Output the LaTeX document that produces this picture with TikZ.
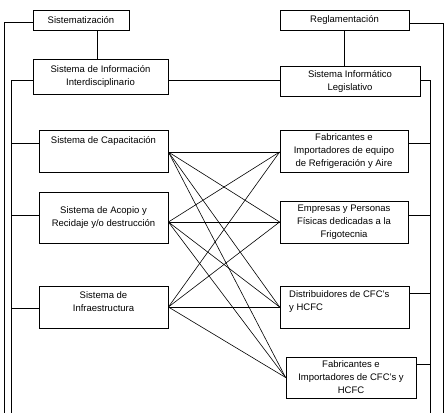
\documentclass[tikz,border=0pt]{standalone}
\usepackage{fontspec}
\setmainfont{Liberation Sans}
\begin{document}
\begin{tikzpicture}[x=1pt,y=-1pt,
  box/.style={draw,line width=0.8pt,inner sep=0pt},
  txt/.style={font=\fontsize{9.5}{13}\selectfont,align=center,inner sep=0pt},
  ln/.style={line width=0.8pt},
  cross/.style={line width=0.6pt}]
\useasboundingbox (0,0) rectangle (446,413);
% top boxes
\node[box,txt,minimum width=96pt,minimum height=20pt] (sis) at (81,20) {Sistematización};
\node[box,txt,minimum width=135pt,minimum height=35pt] (sii) at (100.5,76.5) {Sistema de Información\\Interdisciplinario};
\node[box,txt,minimum width=129pt,minimum height=20pt] (reg) at (344.5,20) {Reglamentación};
\node[box,txt,minimum width=140pt,minimum height=30pt] (sil) at (350,81) {Sistema Informático\\Legislativo};
% left boxes
\node[box,minimum width=129pt,minimum height=42pt] (cap) at (103.5,151) {};
\node[txt] (captxt) at (103.5,141) {Sistema de Capacitación};
\node[box,txt,minimum width=129pt,minimum height=51pt] (aco) at (103.5,217.5) {Sistema de Acopio y\\Recidaje y/o destrucción};
\node[box,minimum width=129pt,minimum height=42pt] (inf) at (103.5,307) {};
\node[txt] (inftxt) at (103.5,301.5) {Sistema de\\Infraestructura};
% right boxes
\node[box,txt,minimum width=128pt,minimum height=42pt] (fe) at (344,151) {Fabricantes e\\Importadores de equipo\\de Refrigeración y Aire};
\node[box,txt,minimum width=128pt,minimum height=42pt] (emp) at (344,222) {Empresas y Personas\\Físicas dedicadas a la\\Frigotecnia};
\node[box,minimum width=129pt,minimum height=42pt] (dist) at (344.5,307) {};
\node[txt,anchor=west,align=left] (disttxt) at (289,301.5) {Distribuidores de CFC's\\y HCFC};
\node[box,txt,minimum width=130pt,minimum height=41pt] (fcfc) at (351,377.5) {Fabricantes e\\Importadores de CFC's y\\HCFC};
% side rails
\coordinate (L1) at (4,413);
\coordinate (L2) at (11,413);
\coordinate (R1) at (443,413);
\coordinate (R2) at (430,413);
\draw[ln] ([yshift=-2pt]sis.west) -| (L1);
\draw[ln] ([yshift=-3.5pt]sii.west) -| (L2);
\draw[ln] ([yshift=8pt]cap.west) coordinate (c1) -- (L2 |- c1);
\draw[ln] ([yshift=2.5pt]aco.west) coordinate (c2) -- (L2 |- c2);
\draw[ln] ([yshift=-1pt]inf.west) coordinate (c3) -- (L2 |- c3);
\draw[ln] ([yshift=-3pt]reg.east) -| (R1);
\draw[ln] ([yshift=1pt]sil.east) -| (R2);
\draw[ln] ([yshift=8pt]fe.east) coordinate (d1) -- (R2 |- d1);
\draw[ln] ([yshift=7pt]emp.east) coordinate (d2) -- (R2 |- d2);
\draw[ln] ([yshift=14pt]dist.east) coordinate (d3) -- (R2 |- d3);
\draw[ln] ([yshift=13.5pt]fcfc.east) coordinate (d4) -- (R2 |- d4);
% top connections
\draw[ln] ([xshift=16pt]sis.south) coordinate (e1) -- (e1 |- sii.north);
\draw[ln] (reg.south) -- (reg.south |- sil.north);
\draw[ln] ([yshift=-3.5pt]sii.east) coordinate (e2) -- (sil.west |- e2);
% crossing lines
\coordinate (capA) at ([yshift=-1pt]cap.east);
\coordinate (acoA) at ([yshift=-4.5pt]aco.east);
\coordinate (infA) at (inf.east);
\coordinate (feA) at ([yshift=-1pt]fe.west);
\coordinate (empA) at (emp.west);
\coordinate (distA) at (dist.west);
\coordinate (fcA) at (fcfc.west);
\foreach \a in {capA,acoA,infA}
  \foreach \b in {feA,empA,distA,fcA}
    \draw[cross] (\a) -- (\b);
\end{tikzpicture}
\end{document}
